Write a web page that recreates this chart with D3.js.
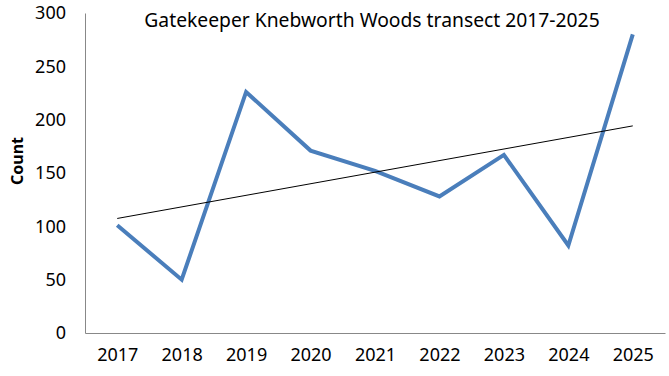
<!DOCTYPE html>
<html>
<head>
<meta charset="utf-8">
<script src="https://cdn.jsdelivr.net/npm/d3@7"></script>
<style>
  body { margin: 0; background: #fff; }
  text { font-family: "Noto Sans", "Open Sans", sans-serif; fill: #000; }
  .axis path { stroke: #888; }
  .axis line { display: none; }
</style>
</head>
<body>
<svg width="669" height="376"></svg>
<script>
// data
var years = ["2017", "2018", "2019", "2020", "2021", "2022", "2023", "2024", "2025"];
var counts = [101, 50, 226, 171, 152, 128, 167, 82, 280];
var yTicks = [0, 50, 100, 150, 200, 250, 300];
var chartTitle = "Gatekeeper Knebworth Woods transect 2017-2025";

var svg = d3.select("svg"),
    margin = {top: 13, right: 4, bottom: 43, left: 85},
    width = +svg.attr("width") - margin.left - margin.right,
    height = +svg.attr("height") - margin.top - margin.bottom,
    g = svg.append("g").attr("transform", "translate(" + margin.left + "," + margin.top + ")");

var x = d3.scalePoint()
    .domain(years)
    .range([0, width])
    .padding(0.5);

var y = d3.scaleLinear()
    .domain([0, 300])
    .range([height, 0]);

// axes
g.append("g")
    .attr("class", "axis axis--x")
    .attr("transform", "translate(0," + height + ")")
    .call(d3.axisBottom(x).tickSize(0).tickSizeOuter(0).tickPadding(15))
  .selectAll("text")
    .style("font-size", "18px");

g.append("g")
    .attr("class", "axis axis--y")
    .call(d3.axisLeft(y).tickValues(yTicks).tickSize(0).tickSizeOuter(0).tickPadding(19))
  .selectAll("text")
    .style("font-size", "18px");

g.selectAll(".axis path").attr("stroke", "#888");

// y title
svg.append("text")
    .attr("transform", "rotate(-90)")
    .attr("x", -(margin.top + height / 2) + 12)
    .attr("y", 23)
    .style("text-anchor", "middle")
    .style("font-size", "16px")
    .style("font-weight", "bold")
    .text("Count");

// chart title
svg.append("text")
    .attr("x", 372)
    .attr("y", 27)
    .style("text-anchor", "middle")
    .style("font-size", "19.3px")
    .text(chartTitle);

// data line
var pts = years.map(function(d, i) { return {year: d, value: counts[i]}; });

g.append("path")
    .datum(pts)
    .attr("fill", "none")
    .attr("stroke", "#4A7EBB")
    .attr("stroke-width", 4)
    .attr("stroke-linejoin", "miter")
    .attr("d", d3.line()
      .x(function(d) { return x(d.year); })
      .y(function(d) { return y(d.value); }));

// linear trend (least squares over index)
var n = counts.length,
    mx = d3.mean(counts, function(d, i) { return i; }),
    my = d3.mean(counts),
    sxy = d3.sum(counts, function(d, i) { return (i - mx) * (d - my); }),
    sxx = d3.sum(counts, function(d, i) { return (i - mx) * (i - mx); }),
    slope = sxy / sxx,
    icpt = my - slope * mx;

var trend = [0, n - 1].map(function(i) { return {year: years[i], value: icpt + slope * i}; });

g.append("path")
    .datum(trend)
    .attr("fill", "none")
    .attr("stroke", "#000")
    .attr("stroke-width", 1)
    .attr("d", d3.line()
      .x(function(d) { return x(d.year); })
      .y(function(d) { return y(d.value); }));
</script>
</body>
</html>
